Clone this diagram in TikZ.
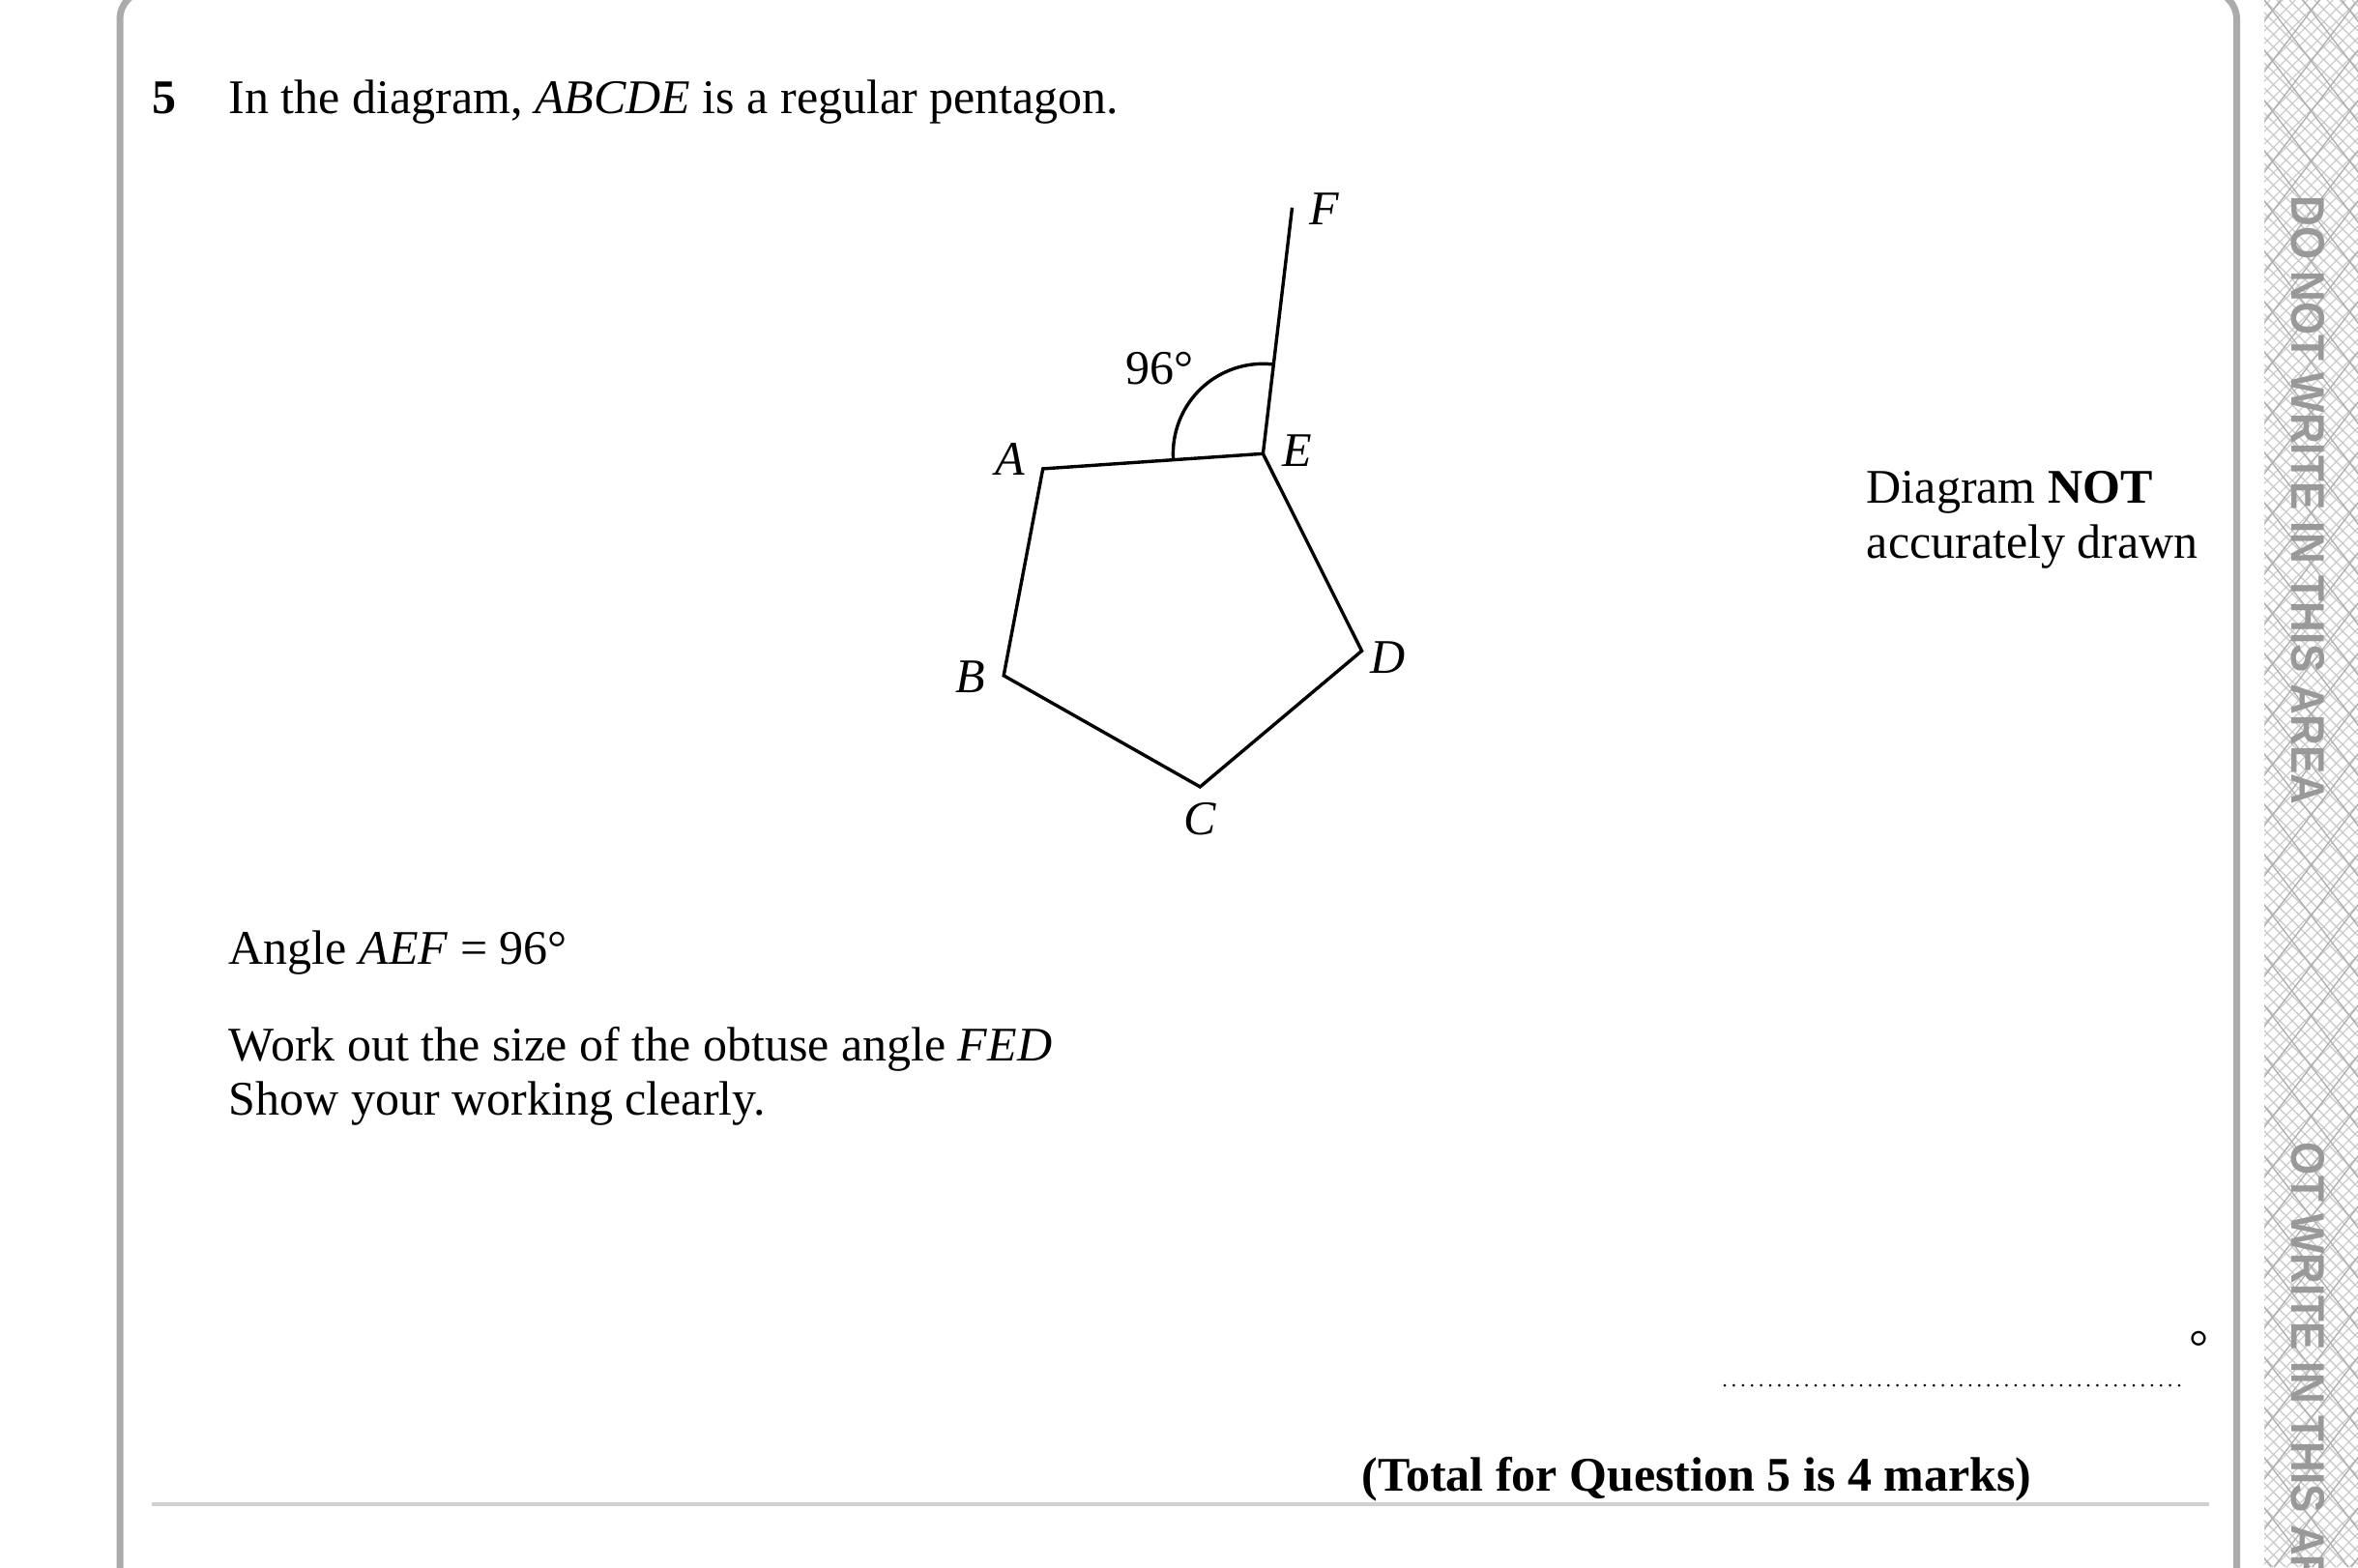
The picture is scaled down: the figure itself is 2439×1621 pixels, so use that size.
\documentclass[tikz,border=0pt]{standalone}
\usepackage{graphicx}
\usepackage{fontspec}
\setmainfont{Liberation Serif}
\newfontfamily\stripfont{Liberation Sans}
\begin{document}
\begin{tikzpicture}[x=0.25pt,y=-0.25pt,
  txt/.style={inner sep=0pt, anchor=base west, font=\fontsize{12.5}{15}\selectfont},
  lbl/.style={inner sep=0pt, font=\fontsize{12.5}{15}\selectfont\itshape},
  penline/.style={line width=0.85pt, line join=miter},
  borderline/.style={draw=black!33, line width=1.75pt},
  finehatch/.style={draw=black!22, line width=0.28pt},
  coarsehatch/.style={draw=black!32, line width=0.32pt},
  warn/.style={inner sep=0pt, anchor=west, rotate=-90, text=black!40, font=\stripfont\bfseries\fontsize{12.2}{14}\selectfont}]
\useasboundingbox (0,0) rectangle (2439,1621);
\clip (0,0) rectangle (2439,1621);
% page frame
\draw[borderline, rounded corners=7.5pt] (124,-10) rectangle (2313.5,1750);
% hatched margin strip
\begin{scope}
  \clip (2342,0) rectangle (2439,1621);
  \foreach \k in {-126,...,10} {
    \draw[finehatch] ({2342+13*\k},0) -- ({2342+13*\k+1621},1621);
    \draw[finehatch] ({2439-13*\k},0) -- ({2439-13*\k-1621},1621);
  }
  \foreach \k in {-33,...,4} {
    \draw[coarsehatch] ({2342+40*\k},0) -- ({2342+40*\k+1247},1621);
    \draw[coarsehatch] ({2439-40*\k},0) -- ({2439-40*\k-1247},1621);
  }
\end{scope}
\node[warn] (w1) at (2387,202) {\scalebox{0.9}[1]{DO NOT WRITE IN THIS AREA}};
\node[warn] (w2) at (2387,1181) {\scalebox{0.9}[1]{OT WRITE IN THIS AREA}};
% question text
\node[txt] (qnum) at (157,117) {\textbf{5}};
\node[txt] (intro) at (236,117) {In the diagram, \textit{ABCDE} is a regular pentagon.};
\node[txt] (nd1) at (1930,520) {Diagram \textbf{NOT}};
\node[txt] (nd2) at (1930,577) {accurately drawn};
\node[txt] (given) at (236,997) {Angle \textit{AEF} = 96°};
\node[txt] (task1) at (236,1097) {Work out the size of the obtuse angle \textit{FED}};
\node[txt] (task2) at (236,1153) {Show your working clearly.};
\node[txt] (total) at (1408,1542) {\textbf{(Total for Question 5 is 4 marks)}};
% pentagon
\coordinate (A) at (1078.7,484.9);
\coordinate (B) at (1038.2,698.8);
\coordinate (C) at (1241.3,813.9);
\coordinate (D) at (1408.5,673.3);
\coordinate (E) at (1306.4,469.3);
\coordinate (F) at (1336.5,214.8);
\draw[penline] (A) -- (B) -- (C) -- (D) -- (E) -- cycle;
\draw[penline] (E) -- (F);
\draw[penline] ([shift={(-83.25:93)}]E) arc[start angle=-83.25, end angle=-183.9, radius=93];
\node[lbl] (lA) at (1045,475) {A};
\node[lbl] (lB) at (1004,700) {B};
\node[lbl] (lC) at (1241,847) {C};
\node[lbl] (lD) at (1436,680) {D};
\node[lbl] (lE) at (1342,466) {E};
\node[lbl] (lF) at (1370,216) {F};
\node[inner sep=0pt, font=\fontsize{12.5}{15}\selectfont] (ang) at (1199,381) {96°};
% answer line
\node[inner sep=0pt, anchor=north, font=\fontsize{12.5}{15}\selectfont] (deg) at (2274,1376) {°};
\coordinate (d1) at (1784,1433);
\coordinate (d2) at (2261,1433);
\draw[line width=0.75pt, line cap=round, dash pattern=on 0pt off 2.35pt] (d1) -- (d2);
% rule
\coordinate (r1) at (157,1556);
\coordinate (r2) at (2285,1556);
\draw[black!18, line width=1pt] (r1) -- (r2);
\end{tikzpicture}
\end{document}
